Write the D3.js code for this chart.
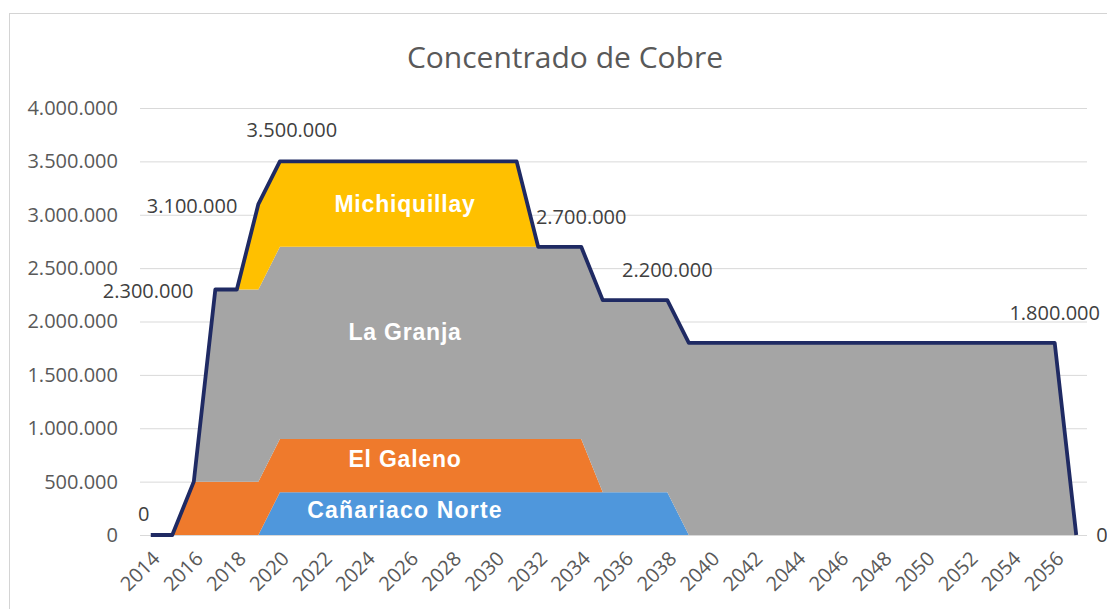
<!DOCTYPE html>
<html>
<head>
<meta charset="utf-8">
<script src="https://cdn.jsdelivr.net/npm/d3@7"></script>
<style>
  body { margin: 0; background: #ffffff; }
  svg { display: block; }
</style>
</head>
<body>
<svg id="chart"></svg>
<script>
// years on the category axis
var years = [
  2014, 2015, 2016, 2017, 2018, 2019, 2020, 2021, 2022, 2023, 2024,
  2025, 2026, 2027, 2028, 2029, 2030, 2031, 2032, 2033, 2034, 2035,
  2036, 2037, 2038, 2039, 2040, 2041, 2042, 2043, 2044, 2045, 2046,
  2047, 2048, 2049, 2050, 2051, 2052, 2053, 2054, 2055, 2056, 2057
];

// stacked series (t/year), bottom to top
var canariacoNorte = [
  0, 0, 0, 0, 0, 0, 400000, 400000, 400000, 400000, 400000,
  400000, 400000, 400000, 400000, 400000, 400000, 400000, 400000, 400000, 400000, 400000,
  400000, 400000, 400000, 0, 0, 0, 0, 0, 0, 0, 0,
  0, 0, 0, 0, 0, 0, 0, 0, 0, 0, 0
];
var elGaleno = [
  0, 0, 500000, 500000, 500000, 500000, 500000, 500000, 500000, 500000, 500000,
  500000, 500000, 500000, 500000, 500000, 500000, 500000, 500000, 500000, 500000, 0,
  0, 0, 0, 0, 0, 0, 0, 0, 0, 0, 0,
  0, 0, 0, 0, 0, 0, 0, 0, 0, 0, 0
];
var laGranja = [
  0, 0, 0, 1800000, 1800000, 1800000, 1800000, 1800000, 1800000, 1800000, 1800000,
  1800000, 1800000, 1800000, 1800000, 1800000, 1800000, 1800000, 1800000, 1800000, 1800000, 1800000,
  1800000, 1800000, 1800000, 1800000, 1800000, 1800000, 1800000, 1800000, 1800000, 1800000, 1800000,
  1800000, 1800000, 1800000, 1800000, 1800000, 1800000, 1800000, 1800000, 1800000, 1800000, 0
];
var michiquillay = [
  0, 0, 0, 0, 0, 800000, 800000, 800000, 800000, 800000, 800000,
  800000, 800000, 800000, 800000, 800000, 800000, 800000, 0, 0, 0, 0,
  0, 0, 0, 0, 0, 0, 0, 0, 0, 0, 0,
  0, 0, 0, 0, 0, 0, 0, 0, 0, 0, 0
];
var total = [
  0, 0, 500000, 2300000, 2300000, 3100000, 3500000, 3500000, 3500000, 3500000, 3500000,
  3500000, 3500000, 3500000, 3500000, 3500000, 3500000, 3500000, 2700000, 2700000, 2700000, 2200000,
  2200000, 2200000, 2200000, 1800000, 1800000, 1800000, 1800000, 1800000, 1800000, 1800000, 1800000,
  1800000, 1800000, 1800000, 1800000, 1800000, 1800000, 1800000, 1800000, 1800000, 1800000, 0
];

var seriesNames = ["Cañariaco Norte", "El Galeno", "La Granja", "Michiquillay"];
var yTicks = [0, 500000, 1000000, 1500000, 2000000, 2500000, 3000000, 3500000, 4000000];
var xTickYears = [2014, 2016, 2018, 2020, 2022, 2024, 2026, 2028, 2030, 2032, 2034,
                  2036, 2038, 2040, 2042, 2044, 2046, 2048, 2050, 2052, 2054, 2056];
var labelledYears = [2014, 2017, 2019, 2020, 2034, 2038, 2056, 2057];

var W = 1107, H = 609;
var colors = ["#4f97dc", "#ef7a2c", "#a5a5a5", "#ffc000"];
var font = "'Open Sans', 'DejaVu Sans', sans-serif";

var svg = d3.select('#chart').attr("width", W).attr("height", H);

// chart frame
svg.append("rect")
    .attr("x", 9.5).attr("y", 13.5)
    .attr("width", W + 10).attr("height", H - 8)
    .attr("fill", "#ffffff")
    .attr("stroke", "#d4d4d4");

svg.append("text")
    .attr("x", 565).attr("y", 68)
    .attr("text-anchor", "middle")
    .attr("font-family", font)
    .attr("font-size", 30)
    .attr("fill", "#595959")
    .text("Concentrado de Cobre");

var plotLeft = 140, plotRight = 1087;
var x = d3.scalePoint().domain(years).range([plotLeft, plotRight]).padding(0.5);
var y = d3.scaleLinear().domain([0, 4000000]).range([535, 108]);

var locale = d3.formatLocale({decimal: ",", thousands: ".", grouping: [3], currency: ["", ""]});
var fmt = locale.format(",");

// gridlines + y labels
var yAxis = svg.append("g")
    .attr("transform", "translate(" + plotLeft + ",0)")
    .call(d3.axisLeft(y).tickValues(yTicks).tickFormat(fmt)
        .tickSize(-(plotRight - plotLeft)).tickPadding(22));
yAxis.select(".domain").remove();
yAxis.selectAll("line").attr("stroke", "#d9d9d9");
yAxis.selectAll("text")
    .attr("font-family", font).attr("font-size", 20).attr("fill", "#595959");

// stacked areas
var table = years.map(function(yr, i) {
    return {
        year: yr,
        "Cañariaco Norte": canariacoNorte[i],
        "El Galeno": elGaleno[i],
        "La Granja": laGranja[i],
        "Michiquillay": michiquillay[i]
    };
});
var stacked = d3.stack().keys(seriesNames)(table);

var area = d3.area()
    .x(function(d) { return x(d.data.year); })
    .y0(function(d) { return y(d[0]); })
    .y1(function(d) { return y(d[1]); });

svg.append("g").selectAll("path")
    .data(stacked)
    .enter()
    .append("path")
    .attr("d", area)
    .attr("fill", function(d, i) { return colors[i]; });

// total outline
var line = d3.line()
    .x(function(d, i) { return x(years[i]); })
    .y(function(d) { return y(d); });

svg.append("path")
    .datum(total)
    .attr("d", line)
    .attr("fill", "none")
    .attr("stroke", "#1f2a63")
    .attr("stroke-width", 3.8)
    .attr("stroke-linejoin", "round");

// x labels
var xAxis = svg.append("g")
    .attr("transform", "translate(0,535)")
    .call(d3.axisBottom(x).tickValues(xTickYears).tickSize(0).tickPadding(0));
xAxis.select(".domain").remove();
xAxis.selectAll("text")
    .attr("font-family", font).attr("font-size", 20).attr("fill", "#595959")
    .attr("text-anchor", "end")
    .attr("y", 0).attr("dy", "0.35em")
    .attr("transform", "translate(5,20) rotate(-45)");

// data labels of the total
var labelPos = {
    2014: {dx: -7, dy: -21, anchor: "middle"},
    2017: {dx: -22, dy: 2, anchor: "end"},
    2019: {dx: -21, dy: 2, anchor: "end"},
    2020: {dx: 12, dy: -31, anchor: "middle"},
    2034: {dx: 0, dy: -30, anchor: "middle"},
    2038: {dx: 0, dy: -30, anchor: "middle"},
    2056: {dx: 0, dy: -30, anchor: "middle"},
    2057: {dx: 20, dy: 0, anchor: "start"}
};
svg.append("g").selectAll("text")
    .data(labelledYears)
    .enter()
    .append("text")
    .attr("x", function(d) { return x(d) + labelPos[d].dx; })
    .attr("y", function(d) { return y(total[years.indexOf(d)]) + labelPos[d].dy; })
    .attr("dy", "0.35em")
    .attr("text-anchor", function(d) { return labelPos[d].anchor; })
    .attr("font-family", font).attr("font-size", 20).attr("fill", "#404040")
    .text(function(d) { return fmt(total[years.indexOf(d)]); });

// series names inside the areas
var nameSpots = [
    {name: "Michiquillay", year: 2026, value: 3100000},
    {name: "La Granja", year: 2026, value: 1900000},
    {name: "El Galeno", year: 2026, value: 710000},
    {name: "Cañariaco Norte", year: 2026, value: 230000}
];
svg.append("g").selectAll("text")
    .data(nameSpots)
    .enter()
    .append("text")
    .attr("x", function(d) { return x(d.year) - 4; })
    .attr("y", function(d) { return y(d.value); })
    .attr("dy", "0.35em")
    .attr("text-anchor", "middle")
    .attr("font-family", "'Liberation Sans', Arial, sans-serif")
    .attr("font-weight", "bold")
    .attr("font-size", 23)
    .attr("letter-spacing", function(d) { return d.name === "Cañariaco Norte" ? 1.2 : 0.8; })
    .attr("fill", "#ffffff")
    .text(function(d) { return d.name; });
</script>
</body>
</html>
